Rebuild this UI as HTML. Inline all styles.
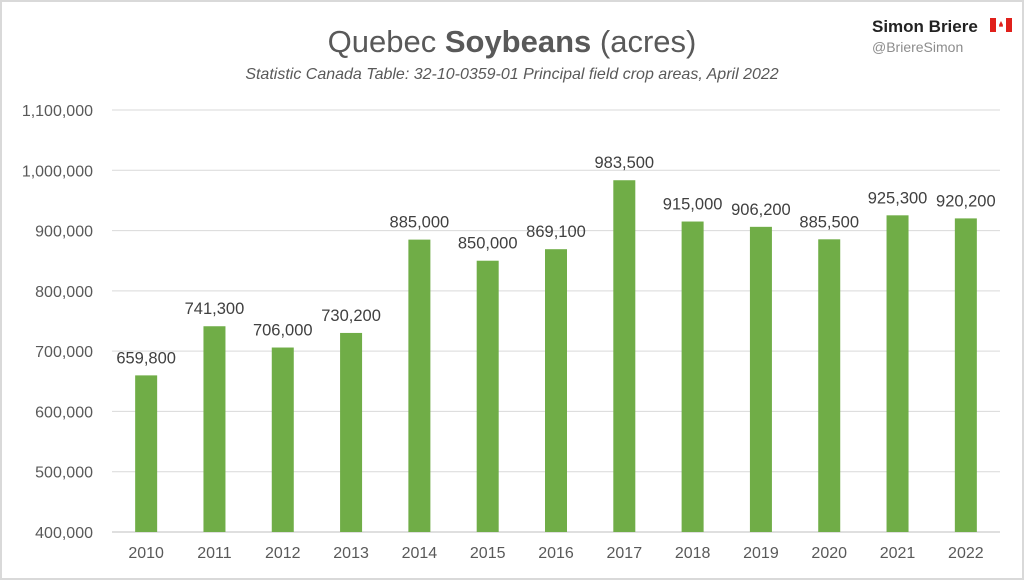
<!DOCTYPE html>
<html><head><meta charset="utf-8"><style>
body{margin:0;width:1024px;height:580px;background:#fff;overflow:hidden;font-family:"Liberation Sans",sans-serif}
#frame{position:absolute;left:0;top:0;width:1020px;height:576px;border:2px solid #d9d9d9;background:#fff}
</style></head><body>
<div id="frame"></div>
<svg id="chart" width="1024" height="580" style="position:absolute;left:0;top:0">
<text x="512" y="52" text-anchor="middle" font-size="31" fill="#595959">Quebec <tspan font-weight="bold">Soybeans</tspan> (acres)</text>
<text x="512" y="79" text-anchor="middle" font-size="16" font-style="italic" fill="#595959">Statistic Canada Table: 32-10-0359-01 Principal field crop areas, April 2022</text>
<text x="872" y="32" font-size="17" font-weight="bold" fill="#222">Simon Briere</text>
<g><rect x="990" y="18" width="22" height="14" fill="#e0201b"/><rect x="996" y="18" width="10" height="14" fill="#fff"/><path d="M1001 21 L1003 25 L1002.5 27 L1001 26.5 L999.5 27 L999 25 Z" fill="#e0201b"/></g>
<text x="872" y="52" font-size="14" fill="#8c8c8c">@BriereSimon</text>
<g id="grid"></g><g id="bars"></g><g id="labels"></g>
</svg>
<script>
const years=["2010","2011","2012","2013","2014","2015","2016","2017","2018","2019","2020","2021","2022"];
const acres=[659800,741300,706000,730200,885000,850000,869100,983500,915000,906200,885500,925300,920200];
const yTicks=[400000,500000,600000,700000,800000,900000,1000000,1100000];
const NS="http://www.w3.org/2000/svg";
const x0=112,x1=1000,yMin=400000,yMax=1100000,yB=532,yT=110;
const y=v=>yB-(v-yMin)/(yMax-yMin)*(yB-yT);
const step=(x1-x0)/years.length;
const xc=i=>x0+step*(i+0.5);
const fmt=v=>v.toLocaleString('en-US');
function mk(t,a,p){const e=document.createElementNS(NS,t);for(const k in a)e.setAttribute(k,a[k]);p.appendChild(e);return e;}
const g=document.getElementById('grid'),b=document.getElementById('bars'),l=document.getElementById('labels');
yTicks.forEach(v=>{
 const ln=mk('line',{x1:x0,x2:x1,y1:y(v),y2:y(v),stroke:v===yMin?'#bfbfbf':'#d9d9d9','stroke-width':1},g);
 
 
 const t=mk('text',{x:93,y:y(v)+6,'text-anchor':'end','font-size':16,fill:'#595959'},g);
 t.textContent=fmt(v);
 
 
});
years.forEach((yr,i)=>{
 const v=acres[i];
 const r=mk('rect',{x:xc(i)-11,y:y(v),width:22,height:yB-y(v),fill:'#70ad47'},b);
 
 
 const t=mk('text',{x:xc(i),y:y(v)-12,'text-anchor':'middle','font-size':16.5,fill:'#404040'},l);
 t.textContent=fmt(v);
 
 
 const xt=mk('text',{x:xc(i),y:558,'text-anchor':'middle','font-size':16,fill:'#595959'},l);
 xt.textContent=yr;
 
 
});
</script>
</body></html>
